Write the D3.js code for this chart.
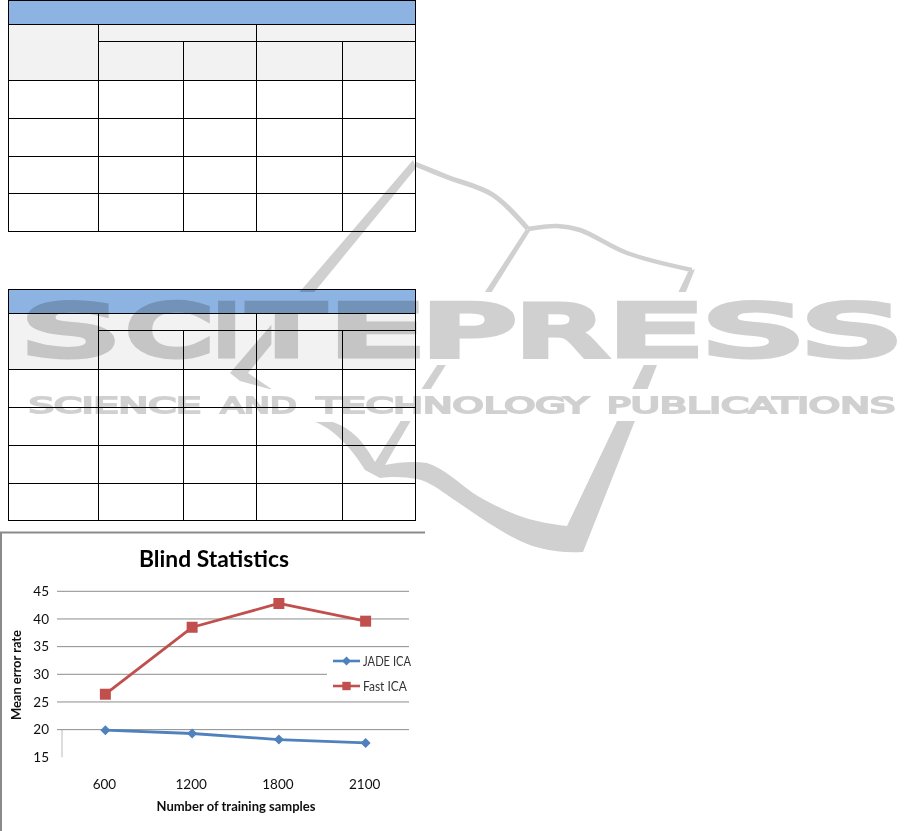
<!DOCTYPE html>
<html><head><meta charset="utf-8">
<script src="https://d3js.org/d3.v7.min.js"></script>
<style>html,body{margin:0;padding:0;background:#fff}svg{display:block}</style></head>
<body><svg id="c" width="914" height="831"></svg>
<script>
// Chart data
const categories = ["600","1200","1800","2100"];
const jadeICA = [19.9,19.3,18.2,17.6];
const fastICA = [26.4,38.5,42.8,39.6];
const yTicks = [15,20,25,30,35,40,45];
const seriesNames = ["JADE ICA","Fast ICA"];
const seriesColors = ["#4F81BD","#C0504D"];
const chartTitle = "Blind Statistics";
const xTitle = "Number of training samples";
const yTitle = "Mean error rate";
const wmLetters = ["S","C","I","T","E","P","R","E","S","S"];
const wmWords = ["SCIENCE","AND","TECHNOLOGY","PUBLICATIONS"];

// Layout (not data)
const colX = [8.5,98.5,183.5,256.5,342.5,415.5];
const rows1 = [0.5,24.5,41.5,80.5,118.5,156.5,193.5,231.5];
const rows2 = [289.5,313.5,330.5,369.5,407.5,445.5,483.5,520.5];
const letterSpans = [[27,86],[128,82],[218,17],[245,83],[338,82],[430,85],[523,85],[617,81],[708,89],[807,88]];
const wordSpans = [[27,176],[219,79],[315,275],[605,292]];
const glyphInk = {S:[.066,.5],C:[.056,.59],I:[.098,.098],T:[0,.611],E:[.098,.47],P:[.098,.47],R:[.098,.57]};

const svg = d3.select("#c");
const defs = svg.append("defs");
defs.append("filter").attr("id","soft").append("feGaussianBlur").attr("stdDeviation",0.4);
const clip = defs.append("clipPath").attr("id","wmclip");
[[0,0,914,292],[225,300,65,65],[450,342,10,13],[0,365,914,24],[0,421,914,410]].forEach(r=>
  clip.append("rect").attr("x",r[0]).attr("y",r[1]).attr("width",r[2]).attr("height",r[3]));

function table(g, rows){
  const [t0,t1,t2,t3] = rows, b = rows[rows.length-1], L=colX[0], R=colX[5];
  g.append("rect").attr("x",L).attr("y",t0).attr("width",R-L).attr("height",t1-t0).attr("fill","#8DB3E2");
  g.append("rect").attr("x",L).attr("y",t1).attr("width",R-L).attr("height",t3-t1).attr("fill","#F2F2F2");
  const segs = [[L,t0,R,t0],[L,t1,R,t1],[colX[1],t2,R,t2]];
  rows.slice(3).forEach(y=>segs.push([L,y,R,y]));
  segs.push([L,t0,L,b],[R,t0,R,b],[colX[1],t1,colX[1],b],[colX[3],t1,colX[3],b],[colX[2],t2,colX[2],b],[colX[4],t2,colX[4],b]);
  g.selectAll("line").data(segs).join("line")
   .attr("x1",d=>d[0]).attr("y1",d=>d[1]).attr("x2",d=>d[2]).attr("y2",d=>d[3])
   .attr("stroke","#000").attr("stroke-width",1).attr("stroke-linecap","square").attr("shape-rendering","crispEdges");
}
table(svg.append("g"),rows1);
table(svg.append("g"),rows2);

// Chart frame
svg.append("path").attr("d","M1,831V532.5H425").attr("fill","none").attr("stroke","#8a8a8a").attr("stroke-width",2);

const chart = svg.append("g").attr("filter","url(#soft)");
const x = d3.scaleBand().domain(categories).range([62,409]);
const y = d3.scaleLinear().domain([15,45]).range([757.3,591.3]);
const cx = d=>x(d)+x.bandwidth()/2;

const grid = chart.append("g");
yTicks.filter(t=>t>15).forEach(t=>grid.append("line").attr("x1",57).attr("x2",409).attr("y1",y(t)).attr("y2",y(t)).attr("stroke","#808080").attr("stroke-width",0.9));
grid.append("line").attr("x1",62).attr("x2",62).attr("y1",y(20)).attr("y2",y(15)).attr("stroke","#aaa").attr("stroke-width",0.8);

const yAxis = d3.axisLeft(y).tickValues(yTicks).tickSize(0).tickPadding(13);
const yG = chart.append("g").attr("transform","translate(62,0)").call(yAxis);
yG.select(".domain").remove();
yG.selectAll("text").attr("font-family","Lato").attr("font-size",13.5).attr("fill","#111");
const xAxis = d3.axisBottom(x).tickSize(0).tickPadding(20);
const xG = chart.append("g").attr("transform","translate(-1,759)").call(xAxis);
xG.select(".domain").remove();
xG.selectAll("text").attr("font-family","Lato").attr("font-size",13.5).attr("fill","#111");

// Legend backdrop hides the grid line, as in the reference
chart.append("rect").attr("x",327).attr("y",650).attr("width",85).attr("height",46).attr("fill","#fff");

const line = d3.line().x((d,i)=>cx(categories[i])).y(d=>y(d));
const marker = s=>d3.symbol().type(d3.symbolSquare).size(s)();
[jadeICA,fastICA].forEach((vals,k)=>{
  const g = chart.append("g");
  g.append("path").attr("d",line(vals)).attr("fill","none").attr("stroke",seriesColors[k]).attr("stroke-width",2.8).attr("stroke-linejoin","round");
  g.selectAll("path.m").data(vals).join("path").attr("class","m").attr("d",marker(k?121:50))
   .attr("transform",(d,i)=>`translate(${cx(categories[i])},${y(d)})${k?"":" rotate(45)"}`).attr("fill",seriesColors[k]);
});

// Legend
const legY = [661,686];
const legW = [48,44];
seriesNames.forEach((n,k)=>{
  const g = chart.append("g");
  g.append("line").attr("x1",333).attr("x2",360).attr("y1",legY[k]).attr("y2",legY[k]).attr("stroke",seriesColors[k]).attr("stroke-width",2.6);
  g.append("path").attr("d",marker(k?70:40)).attr("transform",`translate(346.5,${legY[k]})${k?"":" rotate(45)"}`).attr("fill",seriesColors[k]);
  g.append("text").attr("x",363).attr("y",legY[k]+5).attr("font-family","Lato").attr("font-size",13.5).attr("textLength",legW[k]).attr("lengthAdjust","spacingAndGlyphs").attr("fill","#333").text(n);
});

// Titles
chart.append("text").attr("x",214).attr("y",567).attr("text-anchor","middle").attr("font-family","Lato").attr("font-weight",700).attr("font-size",23).attr("textLength",150).attr("lengthAdjust","spacingAndGlyphs").attr("fill","#000").text(chartTitle);
chart.append("text").attr("x",236).attr("y",811).attr("text-anchor","middle").attr("font-family","Lato").attr("font-weight",700).attr("font-size",13).attr("textLength",159).attr("lengthAdjust","spacingAndGlyphs").attr("fill","#111").text(xTitle);
chart.append("text").attr("transform","translate(21,675) rotate(-90)").attr("text-anchor","middle").attr("font-family","Lato").attr("font-weight",700).attr("font-size",13.5).attr("textLength",90).attr("lengthAdjust","spacingAndGlyphs").attr("fill","#111").text(yTitle);

// Watermark
const wm = svg.append("g").style("mix-blend-mode","multiply");
const book = wm.append("g").attr("clip-path","url(#wmclip)").attr("fill","#d0d0d0");
const curve = d3.line().curve(d3.curveCatmullRom);
book.append("path").attr("d","M413,160L230,373L240,381L273,390L248,373L416,168Z");
book.append("path").attr("d",
 "M315,422 C330,427 350,445 365,470 L380,478 C395,476 405,477 417,479 C430,482 440,490 450,497 C467,508 483,520 500,530 C515,539 527,545 540,548 C555,552 570,553 583,552 L695,269 L688,272 L567,526 C550,524 532,521 517,515 C500,508 487,502 473,493 C458,482 443,468 427,463 C413,461 400,462 385,465 L410,422 L400,422 L375,462 C368,450 362,442 357,437 C350,430 342,425 333,422 Z");
book.append("path").attr("d","M526,229 L530,231 L410,422 L400,422 Z");
book.append("path").attr("d",curve([[415,164],[447,177],[493,195],[528,229]])).attr("fill","none").attr("stroke","#d0d0d0").attr("stroke-width",5);
book.append("path").attr("d",curve([[528,229],[557,226],[580,230],[627,253],[692,270]])).attr("fill","none").attr("stroke","#d0d0d0").attr("stroke-width",4.5);

// Stretched real text: halos first, then the letters, so no halo cuts a neighbour
const halos = wm.append("g"), inks = wm.append("g");
function stretched(txt, x0, w, base, fs, sw, ink){
  const mk = (p,col,s)=>p.append("text").attr("font-family","DejaVu Sans").attr("font-size",fs).text(txt)
    .attr("fill",col).attr("stroke",col).attr("stroke-width",s).attr("stroke-linejoin","miter");
  const t = mk(inks,"#d0d0d0",sw), halo = mk(halos,"#fff",sw+4);
  const adv = t.node().getComputedTextLength();
  const lsb = ink ? ink[0]*fs : 0, iw = ink ? ink[1]*fs : adv;
  const sx = w/(iw+sw);
  const tf = `translate(${x0+(sw/2-lsb)*sx},${base-sw/2}) scale(${sx},1)`;
  t.attr("transform",tf); halo.attr("transform",tf);
}
wmLetters.forEach((l,i)=>stretched(l,letterSpans[i][0],letterSpans[i][1],358,70,7,glyphInk[l]));
wmWords.forEach((l,i)=>stretched(l,wordSpans[i][0],wordSpans[i][1],414,21,1.8,null));
</script></body></html>
